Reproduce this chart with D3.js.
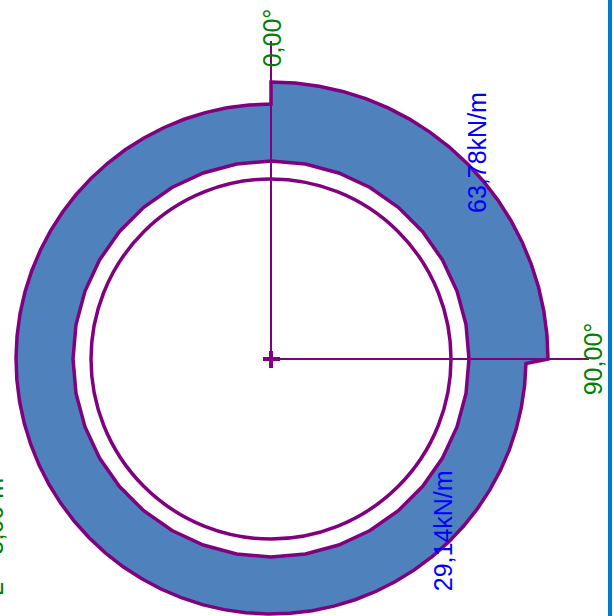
<!DOCTYPE html>
<html>
<head>
<meta charset="utf-8">
<script src="https://cdn.jsdelivr.net/npm/d3@7"></script>
<style>
  html, body { margin: 0; padding: 0; background: #ffffff; overflow: hidden; }
  svg { display: block; }
</style>
</head>
<body>
<div id="chart"></div>
<script>
// ---- data ----
const loadStartDeg = [0, 90];
const loadEndDeg = [90, 360];
const loadValues = [63.78, 29.14];
const loadLabels = ["63,78kN/m", "29,14kN/m"];
const axisAnglesDeg = [0, 90];
const axisLabels = ["0,00°", "90,00°"];
const sideLabels = ["L = 5,00 m"];

// ---- layout ----
const W = 614, H = 616;
const cx = 271, cy = 359;
const rPipe = 180;
const rBase = 198;
const polySteps = 36;
const axisLineR = 318, axisLabelR = 321;
const loadLabelR = [292, 243];

const svg = d3.select("#chart").append("svg").attr("width", W).attr("height", H);
const g = svg.append("g").attr("transform", `translate(${cx},${cy})`);

const ang = d3.scaleLinear().domain([0, 360]).range([0, 2 * Math.PI]);
const rScale = d3.scaleLinear().domain(d3.extent(loadValues)).range([255, 277]);

// outer boundary of load diagram
const outerPts = [];
loadValues.forEach((v, i) => {
  const a0 = loadStartDeg[i] + (i > 0 ? 1 : 0);
  const a1 = loadEndDeg[i];
  const r = rScale(v);
  const n = Math.max(1, Math.ceil((a1 - a0) / 5));
  for (let k = 0; k <= n; k++) {
    const a = a0 + (a1 - a0) * k / n;
    outerPts.push(d3.pointRadial(ang(a), r));
  }
});
// inner polygon (base)
const innerPts = d3.range(polySteps).map(k => d3.pointRadial(ang(k * 360 / polySteps), rBase));

const line = d3.line();
const pathD = line(outerPts) + "Z" + line(innerPts.slice().reverse()) + "Z";

g.append("path")
  .attr("d", pathD)
  .attr("fill", "#4f81bd")
  .attr("fill-rule", "evenodd")
  .attr("stroke", "#800080")
  .attr("stroke-width", 3.5)
  .attr("stroke-linejoin", "miter");

// pipe circle
g.append("circle").attr("r", rPipe)
  .attr("fill", "none").attr("stroke", "#800080").attr("stroke-width", 3.5);

// axis lines
axisAnglesDeg.forEach(a => {
  const p = d3.pointRadial(ang(a), axisLineR);
  g.append("line").attr("x1", 0).attr("y1", 0).attr("x2", p[0]).attr("y2", p[1])
    .attr("stroke", "#800080").attr("stroke-width", 2);
});

// centre cross
g.append("line").attr("x1", -8).attr("x2", 9).attr("y1", 0).attr("y2", 0)
  .attr("stroke", "#800080").attr("stroke-width", 4);
g.append("line").attr("x1", 0).attr("x2", 0).attr("y1", -8).attr("y2", 9)
  .attr("stroke", "#800080").attr("stroke-width", 4);

const font = "'Liberation Sans', Arial, sans-serif";

// axis labels
axisAnglesDeg.forEach((a, i) => {
  const p = d3.pointRadial(ang(a), axisLabelR);
  g.append("text")
    .attr("transform", `translate(${p[0] + 1},${p[1]}) rotate(-90)`)
    .attr("text-anchor", "middle")
    .attr("dominant-baseline", "central")
    .attr("font-family", font).attr("font-size", 25)
    .attr("fill", "#008000")
    .text(axisLabels[i]);
});

// load labels
loadValues.forEach((v, i) => {
  const p = d3.pointRadial(ang(loadStartDeg[i] + 45), loadLabelR[i]);
  g.append("text")
    .attr("transform", `translate(${p[0]},${p[1]}) rotate(-90)`)
    .attr("text-anchor", "middle")
    .attr("dominant-baseline", "central")
    .attr("font-family", font).attr("font-size", 25)
    .attr("fill", "#0000ff")
    .text(loadLabels[i]);
});

// side label (mostly off-canvas on the left)
svg.append("text")
  .attr("transform", `translate(3,478) rotate(-90)`)
  .attr("text-anchor", "end")
  .attr("font-family", font).attr("font-size", 25)
  .attr("fill", "#008000")
  .text(sideLabels[0]);

// right frame edge
svg.append("rect").attr("x", 608).attr("y", 0).attr("width", 4).attr("height", H)
  .attr("fill", "#007acc");
</script>
</body>
</html>
